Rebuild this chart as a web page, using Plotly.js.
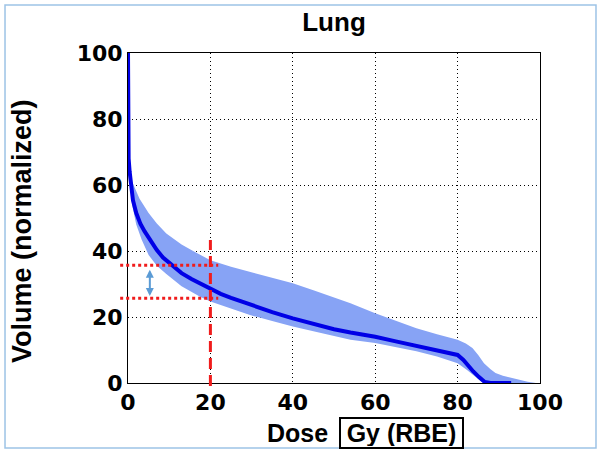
<!DOCTYPE html>
<html>
<head>
<meta charset="utf-8">
<script src="https://cdn.plot.ly/plotly-3.0.1.min.js"></script>
<style>
  html, body { margin: 0; padding: 0; background: #ffffff; }
  #chart { width: 601px; height: 454px; }
</style>
</head>
<body>
<div id="chart"></div>
<script>
// Mean dose-volume histogram (Lung)
const meanDose = [0, 0, 0.15, 0.4, 0.8, 1.2, 2, 3, 4, 5.3, 7, 8.5, 10.5, 13, 15.4, 18, 20, 22.5, 25, 29.6, 35, 40, 45, 50, 54, 60, 65, 70, 75, 80, 81.4, 82.5, 83.8, 85.2, 86.6, 88, 93];
const meanVolume = [100, 74, 68, 64, 59, 55.4, 51.5, 48.3, 46, 43.5, 40.3, 38, 35.8, 33.3, 31.5, 29.8, 28.5, 27, 25.8, 23.7, 21.5, 19.6, 17.9, 16.3, 15.3, 14, 12.6, 11.2, 9.8, 8.5, 7, 5.3, 3.5, 1.8, 0.3, 0, 0];

// Band: lower edge
const lowerDose = [0, 0.3, 1, 2, 3.3, 5, 7, 9.3, 13, 17.4, 20, 25, 29.6, 35, 40, 45, 50, 54, 60, 65, 70, 75, 80, 82.2, 84.6, 86.2];
const lowerVolume = [70, 62, 54, 48, 43.5, 38.8, 35.5, 33, 29.3, 26.2, 24.7, 22.5, 20.6, 18.8, 17.1, 15.7, 14.3, 13.1, 12.1, 10.9, 9.6, 8, 6, 4, 1.5, 0];

// Band: upper edge
const upperDose = [0, 0.3, 1, 2.8, 5, 7, 9.3, 13, 15.8, 17.4, 20, 25, 29.6, 35, 40, 45, 50, 54, 60, 65, 70, 75, 80, 82, 83.6, 85, 86.4, 88, 89.2, 91, 94, 97, 99];
const upperVolume = [74, 66, 61, 55.8, 51.5, 48.3, 45.3, 42, 40, 39, 37.2, 35.2, 33.7, 31.8, 30.2, 28.1, 26, 24.2, 21.1, 18.8, 16.6, 14.8, 13.1, 12, 10.6, 8.5, 6, 4.2, 3, 2.2, 1.2, 0.4, 0];

// Annotation markers
const refDose = 20;
const refTop = 43.3;
const upperMark = 35.7;
const lowerMark = 25.7;
const arrowDose = 5.3;
const arrowTop = 34.8;
const arrowBottom = 26.4;

const tickVals = [0, 20, 40, 60, 80, 100];
const tickText = ['0', '20', '40', '60', '80', '100'];

const red = '#f01c1c';

const traces = [
  { x: lowerDose, y: lowerVolume, type: 'scatter', mode: 'lines',
    line: { width: 0, color: '#87a3f5' }, hoverinfo: 'skip', showlegend: false },
  { x: upperDose, y: upperVolume, type: 'scatter', mode: 'lines', fill: 'tonexty',
    fillcolor: '#87a3f5', line: { width: 0, color: '#87a3f5' }, showlegend: false },
  { x: meanDose, y: meanVolume, type: 'scatter', mode: 'lines',
    line: { width: 4, color: '#0000e6' }, showlegend: false }
];

const axisFont = { family: 'DejaVu Sans', size: 22, color: '#000', weight: 'bold' };
const titleFont = { family: 'Liberation Sans, Arial', size: 25, color: '#000', weight: 'bold' };

const layout = {
  width: 601, height: 454,
  margin: { l: 128, r: 61, t: 53, b: 71 },
  paper_bgcolor: '#ffffff', plot_bgcolor: '#ffffff',
  showlegend: false,
  title: { text: 'Lung', x: 0.5, xref: 'paper', y: 1 - 22 / 454, yanchor: 'middle',
    font: { family: 'Liberation Sans, Arial', size: 26, color: '#000', weight: 'bold' } },
  xaxis: {
    range: [0, 100], tickvals: tickVals, ticktext: tickText,
    showline: true, mirror: true, linecolor: '#000', linewidth: 1,
    showgrid: true, gridcolor: '#000', griddash: '1px,3px', gridwidth: 1,
    zeroline: false, ticks: '', tickfont: axisFont, fixedrange: true
  },
  yaxis: {
    range: [0, 100], tickvals: tickVals, ticktext: tickText,
    showline: true, mirror: true, linecolor: '#000', linewidth: 1,
    showgrid: true, gridcolor: '#000', griddash: '1px,3px', gridwidth: 1,
    zeroline: false, ticks: '', tickfont: axisFont, fixedrange: true
  },
  shapes: [
    { type: 'rect', xref: 'paper', yref: 'paper', x0: -0.2985, x1: 1.1359, y0: -0.197, y1: 1.1455,
      line: { color: '#9dc3e6', width: 1.5 }, fillcolor: 'rgba(0,0,0,0)', layer: 'below' },
    { type: 'line', xref: 'x', yref: 'paper', x0: refDose, x1: refDose, y0: -0.009, y1: refTop / 100,
      line: { color: red, width: 3, dash: '11px,6px' } },
    { type: 'line', xref: 'paper', yref: 'y', x0: -0.019, x1: 0.219, y0: upperMark, y1: upperMark,
      line: { color: red, width: 3, dash: '3px,3px' } },
    { type: 'line', xref: 'paper', yref: 'y', x0: -0.019, x1: 0.219, y0: lowerMark, y1: lowerMark,
      line: { color: red, width: 3, dash: '3px,3px' } }
  ],
  annotations: [
    { xref: 'x', yref: 'y', axref: 'x', ayref: 'y', x: arrowDose, y: arrowBottom, ax: arrowDose, ay: arrowTop,
      text: '', showarrow: true, arrowside: 'end+start', arrowhead: 2, startarrowhead: 2,
      arrowsize: 0.8, startarrowsize: 0.8, arrowwidth: 2, arrowcolor: '#5b9bd5', standoff: 0, startstandoff: 0 },
    { xref: 'paper', yref: 'paper', x: -0.2573, y: 0.4606, xanchor: 'center', yanchor: 'middle',
      text: 'Volume (normalized)', textangle: -90, showarrow: false,
      font: { family: 'Liberation Sans, Arial', size: 27, color: '#000', weight: 'bold' } },
    { xref: 'paper', yref: 'paper', x: 0.4126, y: -0.1515, xanchor: 'center', yanchor: 'middle',
      text: 'Dose', showarrow: false, font: titleFont },
    { xref: 'paper', yref: 'paper', x: 0.6638, y: -0.1515, xanchor: 'center', yanchor: 'middle',
      text: 'Gy (RBE)', showarrow: false, width: 119, height: 26, borderpad: 1,
      bordercolor: '#000', borderwidth: 2, font: titleFont }
  ]
};

Plotly.newPlot('chart', traces, layout, { displayModeBar: false, staticPlot: true });
</script>
</body>
</html>
